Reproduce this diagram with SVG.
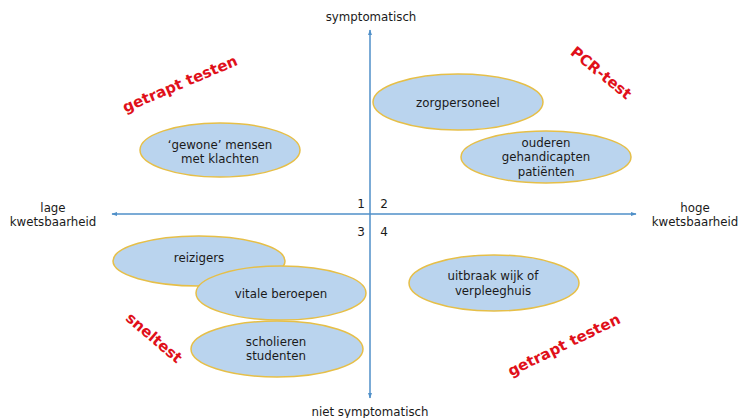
<svg xmlns="http://www.w3.org/2000/svg" width="739" height="418" viewBox="0 0 739 418">
<defs>
<style>
.t{font-family:"DejaVu Sans","Liberation Sans",sans-serif;font-size:11.8px;fill:#1a1a1a;text-anchor:middle}
.n{font-family:"DejaVu Sans","Liberation Sans",sans-serif;font-size:12px;fill:#1a1a1a;text-anchor:middle}
.r{font-family:"DejaVu Sans","Liberation Sans",sans-serif;font-size:15px;font-weight:bold;fill:#e0101a;text-anchor:middle}
.e{fill:#bad4ee;stroke:#e6bf48;stroke-width:1.5}
.ax{stroke:#4f8fc8;stroke-width:1.5;fill:none}
</style>
<marker id="ah" viewBox="0 0 10 10" refX="9" refY="5" markerWidth="6" markerHeight="6" orient="auto-start-reverse" markerUnits="userSpaceOnUse">
<path d="M0,1.5 L10,5 L0,8.5 z" fill="#4f8fc8"/>
</marker>
</defs>
<rect width="739" height="418" fill="#ffffff"/>

<g id="connectors">
<line class="ax" x1="370" y1="398" x2="370" y2="30" marker-end="url(#ah)" marker-start="url(#ah)"/>
<line class="ax" x1="636" y1="214" x2="112" y2="214" marker-end="url(#ah)" marker-start="url(#ah)"/>
</g>

<g id="axis-labels">
<text class="t" x="371" y="21">symptomatisch</text>
<text class="t" x="370" y="416">niet symptomatisch</text>
<text class="t" x="53" y="212">lage</text>
<text class="t" x="53" y="226">kwetsbaarheid</text>
<text class="t" x="695" y="212">hoge</text>
<text class="t" x="695" y="226">kwetsbaarheid</text>
</g>

<g id="quadrant-numbers">
<text class="n" x="361" y="208">1</text>
<text class="n" x="384" y="208">2</text>
<text class="n" x="361" y="236">3</text>
<text class="n" x="384" y="236">4</text>
</g>

<g id="node-gewone">
<ellipse class="e" cx="220" cy="150" rx="80" ry="27"/>
<text class="t" x="220" y="149">‘gewone’ mensen</text>
<text class="t" x="220" y="163">met klachten</text>
</g>

<g id="node-zorgpersoneel">
<ellipse class="e" cx="458" cy="102" rx="85" ry="28"/>
<text class="t" x="458" y="107">zorgpersoneel</text>
</g>

<g id="node-ouderen">
<ellipse class="e" cx="546" cy="157" rx="85" ry="26"/>
<text class="t" x="546" y="147">ouderen</text>
<text class="t" x="546" y="161">gehandicapten</text>
<text class="t" x="546" y="176">patiënten</text>
</g>

<g id="node-reizigers">
<ellipse class="e" cx="199" cy="261" rx="86" ry="25"/>
<text class="t" x="199" y="262">reizigers</text>
</g>

<g id="node-vitale">
<ellipse class="e" cx="281" cy="293" rx="85" ry="27"/>
<text class="t" x="281" y="298">vitale beroepen</text>
</g>

<g id="node-scholieren">
<ellipse class="e" cx="277" cy="349" rx="86" ry="28"/>
<text class="t" x="276" y="346">scholieren</text>
<text class="t" x="276" y="360">studenten</text>
</g>

<g id="node-uitbraak">
<ellipse class="e" cx="494" cy="283" rx="85" ry="28"/>
<text class="t" x="493" y="280">uitbraak wijk of</text>
<text class="t" x="493" y="295">verpleeghuis</text>
</g>

<g id="test-labels">
<text class="r" transform="translate(180,84) rotate(-23)" y="5">getrapt testen</text>
<text class="r" transform="translate(601,73) rotate(39)" y="5">PCR-test</text>
<text class="r" transform="translate(154,338) rotate(40.5)" y="5">sneltest</text>
<text class="r" transform="translate(564,345) rotate(-26)" y="5">getrapt testen</text>
</g>
</svg>
